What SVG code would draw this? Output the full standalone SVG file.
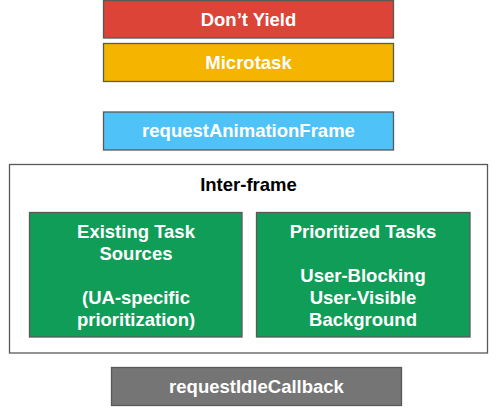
<svg xmlns="http://www.w3.org/2000/svg" width="497" height="417" viewBox="0 0 497 417">
<style>
rect{stroke:#595959;stroke-width:1.3}
text{font-family:"Liberation Sans",Arial,sans-serif;font-weight:bold;font-size:18.5px;text-anchor:middle;fill:#fff}
.dark{fill:#000}
</style>
<rect x="0" y="0" width="497" height="417" fill="#fff" style="stroke:none"/>
<g id="dont-yield"><rect x="103.5" y="0.5" width="290" height="37.5" fill="#DB4437"/><text x="248.5" y="26">Don’t Yield</text></g>
<g id="microtask"><rect x="103.5" y="43.5" width="290" height="38" fill="#F4B400"/><text x="248.5" y="69">Microtask</text></g>
<g id="raf"><rect x="103.5" y="112" width="290" height="38" fill="#4FC3F7"/><text x="248.5" y="137">requestAnimationFrame</text></g>
<g id="inter-frame"><rect x="9.5" y="164.5" width="478" height="188.5" fill="#fff"/><text class="dark" x="248.5" y="191">Inter-frame</text></g>
<g id="existing"><rect x="29.5" y="212.5" width="212.5" height="124.5" fill="#0F9D58"/><text x="136" y="238">Existing Task</text><text x="136" y="260">Sources</text><text x="136" y="304">(UA-specific</text><text x="136" y="326">prioritization)</text></g>
<g id="prioritized"><rect x="256.5" y="212.5" width="213.5" height="124.5" fill="#0F9D58"/><text x="363" y="238">Prioritized Tasks</text><text x="363" y="282">User-Blocking</text><text x="363" y="304">User-Visible</text><text x="363" y="326">Background</text></g>
<g id="ric"><rect x="111.5" y="367.5" width="290" height="38" fill="#757575"/><text x="256.5" y="393">requestIdleCallback</text></g>
<g id="connectors"></g>
</svg>
